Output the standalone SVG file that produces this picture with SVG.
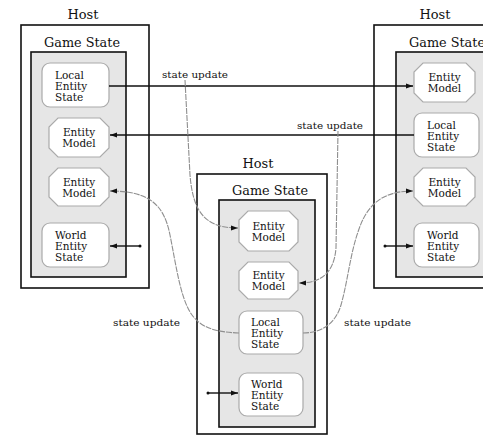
<svg xmlns="http://www.w3.org/2000/svg" width="483" height="436" viewBox="0 0 483 436">
<defs>
<marker id="ah" markerUnits="userSpaceOnUse" markerWidth="8" markerHeight="6" refX="7" refY="3" orient="auto">
<path d="M0,0.5 L7,3 L0,5.5 Z" fill="#111"/>
</marker>
<style>
.host{fill:#fff;stroke:#111;stroke-width:1.6}
.gs{fill:#e6e6e6;stroke:#111;stroke-width:1.6}
.node{fill:#fff;stroke:#aaa;stroke-width:1.2}
.t{font-family:"DejaVu Serif","Liberation Serif",serif;fill:#111}
.ht{font-size:12.5px;text-anchor:middle}
.nt{font-size:10.5px}
.nc{font-size:10.5px;text-anchor:middle}
.lb{font-size:10px}
.blk{fill:none;stroke:#111;stroke-width:1.4}
.gry{fill:none;stroke:#8f8f8f;stroke-width:1.1;stroke-dasharray:6,1}
</style>
</defs>
<rect width="483" height="436" fill="#fff"/>

<g id="host-left">
<text class="t ht" x="83" y="19" textLength="31" lengthAdjust="spacingAndGlyphs">Host</text>
<rect class="host" x="21" y="25" width="128" height="263"/>
<text class="t ht" x="82" y="47" textLength="76" lengthAdjust="spacingAndGlyphs">Game State</text>
<rect class="gs" x="31" y="52" width="95" height="225"/>
</g>
<g id="left-local">
<rect class="node" x="42" y="63" width="67" height="44" rx="8"/>
<text class="t nt" x="55" y="78.5">Local</text>
<text class="t nt" x="55" y="89.5">Entity</text>
<text class="t nt" x="55" y="100.5">State</text>
</g>
<g id="left-model1">
<polygon class="node" points="58,118 100,118 109,127 109,148 100,157 58,157 49,148 49,127"/>
<text class="t nc" x="79" y="136">Entity</text>
<text class="t nc" x="79" y="147">Model</text>
</g>
<g id="left-model2">
<polygon class="node" points="58,168 100,168 109,177 109,197 100,206 58,206 49,197 49,177"/>
<text class="t nc" x="79" y="185.5">Entity</text>
<text class="t nc" x="79" y="196.5">Model</text>
</g>
<g id="left-world">
<rect class="node" x="42" y="223" width="67" height="44" rx="8"/>
<text class="t nt" x="55" y="238.5">World</text>
<text class="t nt" x="55" y="249.5">Entity</text>
<text class="t nt" x="55" y="260.5">State</text>
</g>

<g id="host-right">
<text class="t ht" x="435" y="19" textLength="31" lengthAdjust="spacingAndGlyphs">Host</text>
<rect class="host" x="374" y="25" width="130" height="263"/>
<text class="t ht" x="447" y="47" textLength="76" lengthAdjust="spacingAndGlyphs">Game State</text>
<rect class="gs" x="396" y="52" width="100" height="225"/>
</g>
<g id="right-model1">
<polygon class="node" points="423,63 466,63 475,72 475,93 466,102 423,102 414,93 414,72"/>
<text class="t nc" x="444.5" y="81">Entity</text>
<text class="t nc" x="444.5" y="92">Model</text>
</g>
<g id="right-local">
<rect class="node" x="414" y="113" width="65" height="44" rx="8"/>
<text class="t nt" x="427" y="128.5">Local</text>
<text class="t nt" x="427" y="139.5">Entity</text>
<text class="t nt" x="427" y="150.5">State</text>
</g>
<g id="right-model2">
<polygon class="node" points="423,168 466,168 475,177 475,197 466,206 423,206 414,197 414,177"/>
<text class="t nc" x="444.5" y="185.5">Entity</text>
<text class="t nc" x="444.5" y="196.5">Model</text>
</g>
<g id="right-world">
<rect class="node" x="414" y="223" width="65" height="44" rx="8"/>
<text class="t nt" x="427" y="238.5">World</text>
<text class="t nt" x="427" y="249.5">Entity</text>
<text class="t nt" x="427" y="260.5">State</text>
</g>

<g id="host-middle">
<text class="t ht" x="258" y="168" textLength="31" lengthAdjust="spacingAndGlyphs">Host</text>
<rect class="host" x="197" y="174" width="130" height="260"/>
<text class="t ht" x="270" y="195" textLength="76" lengthAdjust="spacingAndGlyphs">Game State</text>
<rect class="gs" x="219" y="200" width="96" height="227"/>
</g>
<g id="mid-model1">
<polygon class="node" points="248,211 289,211 298,220 298,242 289,251 248,251 239,242 239,220"/>
<text class="t nc" x="268.5" y="229.5">Entity</text>
<text class="t nc" x="268.5" y="240.5">Model</text>
</g>
<g id="mid-model2">
<polygon class="node" points="248,262 289,262 298,271 298,290 289,299 248,299 239,290 239,271"/>
<text class="t nc" x="268.5" y="279">Entity</text>
<text class="t nc" x="268.5" y="290">Model</text>
</g>
<g id="mid-local">
<rect class="node" x="239" y="311" width="64" height="43" rx="8"/>
<text class="t nt" x="251" y="326">Local</text>
<text class="t nt" x="251" y="337">Entity</text>
<text class="t nt" x="251" y="348">State</text>
</g>
<g id="mid-world">
<rect class="node" x="239" y="373" width="64" height="43" rx="8"/>
<text class="t nt" x="251" y="388">World</text>
<text class="t nt" x="251" y="399">Entity</text>
<text class="t nt" x="251" y="410">State</text>
</g>

<g id="connectors">
<line class="blk" x1="109" y1="86" x2="413" y2="86" marker-end="url(#ah)"/>
<line class="blk" x1="414" y1="135" x2="110" y2="135" marker-end="url(#ah)"/>
<line class="blk" x1="140" y1="246" x2="110" y2="246" marker-end="url(#ah)"/>
<circle cx="140" cy="246" r="1.5" fill="#111"/>
<line class="blk" x1="385" y1="246" x2="413" y2="246" marker-end="url(#ah)"/>
<circle cx="385" cy="246" r="1.5" fill="#111"/>
<line class="blk" x1="208" y1="393" x2="238" y2="393" marker-end="url(#ah)"/>
<circle cx="208" cy="393" r="1.5" fill="#111"/>
<path class="gry" d="M185,80 L190,175 C193,212 205,228 238,228" marker-end="url(#ah)"/>
<path class="gry" d="M338,131 L336,248 C334,274 320,283 299,283" marker-end="url(#ah)"/>
<path class="gry" d="M239,333 C215,332 200,328 190,312 C180,295 176,265 170,235 C164,205 150,191 110,191" marker-end="url(#ah)"/>
<path class="gry" d="M303,333 C320,333 335,325 341,305 C348,280 350,255 358,232 C366,207 380,191 413,191" marker-end="url(#ah)"/>
<text class="t lb" x="162" y="78" textLength="66" lengthAdjust="spacingAndGlyphs">state update</text>
<text class="t lb" x="297" y="129" textLength="66" lengthAdjust="spacingAndGlyphs">state update</text>
<text class="t lb" x="113" y="326" textLength="67" lengthAdjust="spacingAndGlyphs">state update</text>
<text class="t lb" x="344" y="326" textLength="67" lengthAdjust="spacingAndGlyphs">state update</text>
</g>
</svg>
